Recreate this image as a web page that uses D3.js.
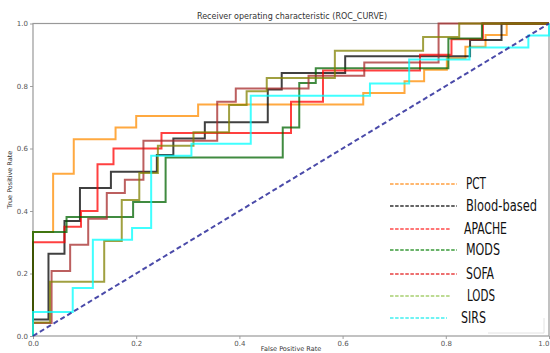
<!DOCTYPE html>
<html><head><meta charset="utf-8">
<script src="https://cdn.jsdelivr.net/npm/d3@7"></script>
<style>
html,body{margin:0;padding:0;background:#fff;}
svg{display:block;}
</style></head>
<body>
<svg id="chart" width="550" height="353"></svg>
<script>
// ---- data ----
const seriesNames = ["PCT","Blood-based","APACHE","MODS","SOFA","LODS","SIRS"];
const pctFpr   = [0,0,0.039,0.079,0.160,0.200,0.320,0.640,0.720,0.758,0.802,0.838,0.877,0.918,1];
const pctTpr   = [0,0.333,0.519,0.630,0.667,0.704,0.741,0.778,0.815,0.852,0.889,0.926,0.963,1,1];
const bloodFpr = [0,0,0.030,0.061,0.091,0.151,0.240,0.272,0.333,0.455,0.482,0.605,0.847,0.908,1];
const bloodTpr = [0,0.053,0.263,0.368,0.474,0.526,0.579,0.632,0.684,0.789,0.842,0.895,0.947,1,1];
const apacheFpr = [0,0,0.061,0.093,0.125,0.156,0.249,0.500,0.562,0.750,0.811,0.872,1];
const apacheTpr = [0,0.30,0.35,0.40,0.55,0.60,0.65,0.75,0.85,0.90,0.95,1,1];
const modsFpr  = [0,0,0.065,0.194,0.257,0.484,0.516,0.548,0.805,0.870,1];
const modsTpr  = [0,0.333,0.381,0.429,0.571,0.667,0.810,0.857,0.952,1,1];
const sofaFpr  = [0,0,0.036,0.072,0.107,0.143,0.178,0.214,0.357,0.393,0.534,0.642,0.786,1];
const sofaTpr  = [0,0.042,0.208,0.292,0.375,0.458,0.500,0.625,0.750,0.792,0.833,0.875,1,1];
const lodsFpr  = [0,0,0.033,0.138,0.172,0.206,0.242,0.311,0.380,0.414,0.453,0.585,0.756,0.826,1];
const lodsTpr  = [0,0.043,0.174,0.304,0.435,0.522,0.609,0.652,0.739,0.783,0.826,0.913,0.957,1,1];
const sirsFpr  = [0,0,0.077,0.116,0.192,0.229,0.307,0.422,0.653,0.729,0.846,0.960,1];
const sirsTpr  = [0,0.077,0.154,0.308,0.346,0.577,0.615,0.769,0.808,0.885,0.923,0.962,1];
const tickValues = [0,0.2,0.4,0.6,0.8,1.0];
const tickLabels = ["0.0","0.2","0.4","0.6","0.8","1.0"];

const titleText = "Receiver operating characteristic (ROC_CURVE)";
const xLabel = "False Positive Rate";
const yLabel = "True Positive Rate";

// ---- styles ----
const lineColors   = ["#ff8c00","#000000","#ff0000","#006400","#a52a2a","#808000","#00ffff"];
const legendColors = ["#ffa040","#333333","#ff4a4a","#3a9a3a","#e84040","#a8d070","#40f0f0"];

const fprs = [pctFpr,bloodFpr,apacheFpr,modsFpr,sofaFpr,lodsFpr,sirsFpr];
const tprs = [pctTpr,bloodTpr,apacheTpr,modsTpr,sofaTpr,lodsTpr,sirsTpr];

const svg = d3.select("#chart");
const x = d3.scaleLinear().domain([0,1]).range([33,549]);
const y = d3.scaleLinear().domain([0,1]).range([336,23.5]);

// axes
const xAxis = d3.axisBottom(x).tickValues(tickValues).tickFormat((d,i)=>tickLabels[i]).tickSize(3).tickPadding(2);
const yAxis = d3.axisLeft(y).tickValues(tickValues).tickFormat((d,i)=>tickLabels[i]).tickSize(3).tickPadding(2);
const gx = svg.append("g").attr("transform","translate(0,336)").call(xAxis);
const gy = svg.append("g").attr("transform","translate(33,0)").call(yAxis);
[gx,gy].forEach(g=>{
  g.select(".domain").remove();
  g.selectAll("line").attr("stroke","#888").attr("stroke-width",0.8);
  g.selectAll("text").attr("fill","#555").style("font-family","DejaVu Sans").style("font-size","7px");
});
// keep the last x label inside the window
gx.selectAll(".tick").filter(d=>d===1).select("text").attr("text-anchor","end").attr("dx","0");

// frame
svg.append("rect").attr("x",x(0)).attr("y",y(1)).attr("width",x(1)-x(0)).attr("height",y(0)-y(1))
  .attr("fill","none").attr("stroke","#999").attr("stroke-width",1.2);

// ROC curves
const line = d3.line().x(d=>x(d[0])).y(d=>y(d[1])).curve(d3.curveStepAfter);
seriesNames.forEach((name,i)=>{
  const pts = fprs[i].map((f,j)=>[f,tprs[i][j]]);
  svg.append("path").datum(pts).attr("d",line)
    .attr("fill","none").attr("stroke",lineColors[i]).attr("stroke-opacity",0.75)
    .attr("stroke-width",2).attr("stroke-linejoin","miter");
});

// chance diagonal
svg.append("path").datum([[0,0],[1,1]]).attr("d",d3.line().x(d=>x(d[0])).y(d=>y(d[1])))
  .attr("stroke","#2a2a9a").attr("stroke-opacity",0.85).attr("stroke-width",2)
  .attr("stroke-dasharray","5,3").attr("fill","none");

// title and axis labels
svg.append("text").attr("x",(x(0)+x(1))/2 + 1).attr("y",19).attr("text-anchor","middle")
  .style("font-family","DejaVu Sans").style("font-size","8px").attr("fill","#333").text(titleText);
svg.append("text").attr("x",(x(0)+x(1))/2).attr("y",351).attr("text-anchor","middle")
  .style("font-family","DejaVu Sans").style("font-size","6.5px").attr("fill","#333").text(xLabel);
svg.append("text").attr("transform",`translate(12,${(y(0)+y(1))/2}) rotate(-90)`).attr("text-anchor","middle")
  .style("font-family","DejaVu Sans").style("font-size","6.5px").attr("fill","#333").text(yLabel);

// legend (pasted-in style, condensed lettering)
const legY = [184,206,229,250,274,296,318];
const legX1 = [457,457,451,457,457,451,447];
const legTX = [466,466,464,466,466,467,461];
const legW  = [20,71,43,34,28,28,25];
const leg = svg.append("g");
seriesNames.forEach((name,i)=>{
  leg.append("line").attr("x1",390).attr("x2",legX1[i]).attr("y1",legY[i]).attr("y2",legY[i])
    .attr("stroke",legendColors[i]).attr("stroke-width",1.3).attr("stroke-dasharray","3.5,1.6");
  const t = leg.append("text").attr("x",0).attr("y",0)
    .style("font-family","'DejaVu Sans Condensed','DejaVu Sans',sans-serif")
    .style("font-size","16.5px").style("font-weight","500").attr("fill","#111").text(name);
  const natural = t.node().getComputedTextLength();
  const sx = legW[i] / natural;
  t.attr("transform",`translate(${legTX[i]},${legY[i]+5}) scale(${sx},1)`);
});
// faint legend frame remnant
svg.append("path").attr("d","M488,333 H544 V318").attr("fill","none").attr("stroke","#e2e2e2").attr("stroke-width",1);
</script>
</body></html>
